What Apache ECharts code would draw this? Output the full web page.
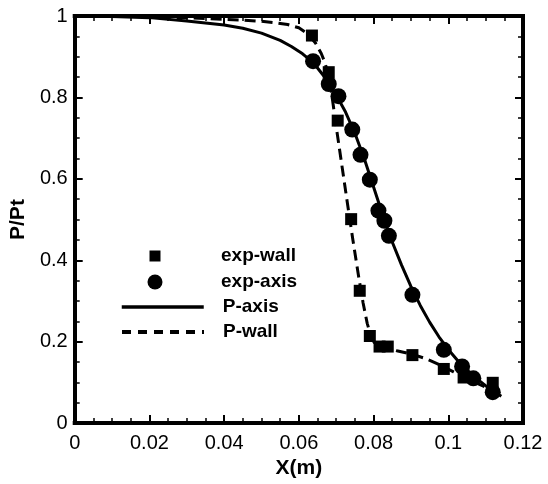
<!DOCTYPE html>
<html>
<head>
<meta charset="utf-8">
<title>P/Pt along X</title>
<script src="https://cdn.jsdelivr.net/npm/echarts@6/dist/echarts.min.js"></script>
<style>
  html, body { margin: 0; padding: 0; background: #fff; }
  #chart { width: 548px; height: 484px; }
</style>
</head>
<body>
<div id="chart"></div>
<script>
// Measured wall pressure (squares)
const wallExpX = [0.0635, 0.0680, 0.0704, 0.0740, 0.0763, 0.0790, 0.0816, 0.0838, 0.0904, 0.0988, 0.1041, 0.1119];
const wallExpY = [0.952, 0.862, 0.743, 0.501, 0.325, 0.214, 0.188, 0.188, 0.167, 0.133, 0.112, 0.099];

// Measured axis pressure (circles)
const axisExpX = [0.0638, 0.0680, 0.0706, 0.0743, 0.0765, 0.0790, 0.0813, 0.0829, 0.0841, 0.0904, 0.0988, 0.1037, 0.1067, 0.1119];
const axisExpY = [0.889, 0.833, 0.803, 0.721, 0.659, 0.598, 0.522, 0.497, 0.460, 0.315, 0.180, 0.139, 0.110, 0.076];

// Computed axis pressure
const axisCurveX = [0, 0.01, 0.02, 0.03, 0.04, 0.045, 0.05, 0.055, 0.058, 0.061, 0.064, 0.067, 0.07, 0.0725, 0.075, 0.0775, 0.08, 0.0825, 0.085, 0.0875, 0.09, 0.0925, 0.095, 0.0975, 0.1, 0.1025, 0.105, 0.1075, 0.11, 0.1125, 0.1142];
const axisCurveY = [1.0, 0.999, 0.996, 0.988, 0.978, 0.97, 0.958, 0.94, 0.925, 0.907, 0.884, 0.849, 0.806, 0.764, 0.712, 0.65, 0.58, 0.51, 0.445, 0.388, 0.336, 0.289, 0.248, 0.212, 0.181, 0.154, 0.131, 0.11, 0.092, 0.076, 0.066];

// Computed wall pressure
const wallCurveX = [0, 0.02, 0.035, 0.045, 0.05, 0.054, 0.057, 0.06, 0.0625, 0.0645, 0.066, 0.067, 0.068, 0.069, 0.07, 0.0715, 0.073, 0.0745, 0.076, 0.0772, 0.0783, 0.0793, 0.0803, 0.0815, 0.0865, 0.09, 0.0944, 0.098, 0.1014, 0.106, 0.11, 0.1142];
const wallCurveY = [1.0, 0.999, 0.994, 0.99, 0.987, 0.983, 0.979, 0.971, 0.955, 0.933, 0.908, 0.885, 0.852, 0.795, 0.728, 0.634, 0.54, 0.448, 0.36, 0.295, 0.245, 0.213, 0.196, 0.188, 0.177, 0.17, 0.157, 0.142, 0.126, 0.105, 0.088, 0.07];

const seriesNames = ['exp-wall', 'exp-axis', 'P-axis', 'P-wall'];

const pairs = (xs, ys) => xs.map((x, i) => [x, ys[i]]);
const FONT = '"Liberation Sans", Arial, Helvetica, sans-serif';
const INK = '#000';

function frameAxis(extra) {
  return Object.assign({
    type: 'value',
    axisLine: { show: true, onZero: false, lineStyle: { color: INK, width: 4, cap: 'square' } },
    axisTick: { show: true, inside: true, length: 8, lineStyle: { color: INK, width: 2 } },
    minorTick: { show: true, splitNumber: 4, length: 5, lineStyle: { color: INK, width: 1.5 } },
    splitLine: { show: false },
    minorSplitLine: { show: false }
  }, extra);
}

const labelStyle = { color: INK, fontSize: 20, fontFamily: FONT };
const nameStyle = { color: INK, fontSize: 21, fontWeight: 'bold', fontFamily: FONT };
const legendText = { color: INK, fontSize: 19, fontWeight: 'bold', fontFamily: FONT };

// One legend block per row so each key can have its own icon size
function legendRow(name, left, top, w, h, padLeft, extra) {
  return Object.assign({
    data: [name],
    left: left,
    top: top,
    orient: 'horizontal',
    padding: 0,
    itemWidth: w,
    itemHeight: h,
    selectedMode: false,
    textStyle: Object.assign({ padding: [0, 0, 0, padLeft] }, legendText)
  }, extra || {});
}

const chart = echarts.init(document.getElementById('chart'), null, { renderer: 'canvas' });

chart.setOption({
  animation: false,
  backgroundColor: '#fff',
  grid: { left: 70, right: 25, top: 16, bottom: 56, containLabel: false },
  xAxis: [
    frameAxis({
      position: 'bottom', min: 0, max: 0.12, interval: 0.02,
      axisLabel: Object.assign({ margin: 10 }, labelStyle),
      name: 'X(m)', nameLocation: 'middle', nameGap: 31, nameTextStyle: nameStyle
    }),
    frameAxis({
      position: 'top', min: 0, max: 0.12, interval: 0.02,
      axisLabel: { show: false }
    })
  ],
  yAxis: [
    frameAxis({
      position: 'left', min: 0, max: 1, interval: 0.2,
      axisLabel: Object.assign({ margin: 7 }, labelStyle),
      name: 'P/Pt', nameLocation: 'middle', nameGap: 33, nameTextStyle: nameStyle
    }),
    frameAxis({
      position: 'right', min: 0, max: 1, interval: 0.2,
      axisLabel: { show: false }
    })
  ],
  legend: [
    legendRow(seriesNames[0], 149.5, 246.5, 11, 11, 55.5),
    legendRow(seriesNames[1], 147.5, 272.5, 15, 15, 53.5),
    legendRow(seriesNames[2], 120, 297.5, 82, 14, 14,
      { lineStyle: { width: 3.5 }, itemStyle: { opacity: 0 } }),
    legendRow(seriesNames[3], 120, 322.5, 82, 14, 14,
      { lineStyle: { width: 4, type: [9, 7] }, itemStyle: { opacity: 0 } })
  ],
  series: [
    {
      name: seriesNames[2], type: 'line', data: pairs(axisCurveX, axisCurveY),
      symbol: 'none', showSymbol: false, smooth: false,
      lineStyle: { color: INK, width: 3, type: 'solid', join: 'round' },
      itemStyle: { color: INK }, z: 2
    },
    {
      name: seriesNames[3], type: 'line', data: pairs(wallCurveX, wallCurveY),
      symbol: 'none', showSymbol: false, smooth: false,
      lineStyle: { color: INK, width: 3, type: [11, 6], join: 'round' },
      itemStyle: { color: INK }, z: 2
    },
    {
      name: seriesNames[0], type: 'scatter', data: pairs(wallExpX, wallExpY),
      symbol: 'rect', symbolSize: 12, itemStyle: { color: INK, opacity: 1 }, z: 3
    },
    {
      name: seriesNames[1], type: 'scatter', data: pairs(axisExpX, axisExpY),
      symbol: 'circle', symbolSize: 16, itemStyle: { color: INK, opacity: 1 }, z: 3
    }
  ]
});
</script>
</body>
</html>
